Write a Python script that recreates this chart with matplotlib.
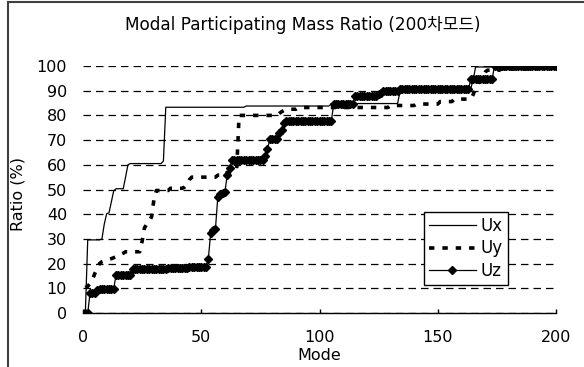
import numpy as np
import matplotlib
matplotlib.use('Agg')
import matplotlib.pyplot as plt
from matplotlib.lines import Line2D

plt.rcParams['font.family'] = ['DejaVu Sans', 'Noto Sans CJK KR']

# mode numbers 1..200
modes = np.arange(1, 201)

ux_levels = [0.3, 29.6, 29.6, 30, 36, 40.2, 40.6, 45, 49.5, 50.3, 55, 60, 60.5, 61.5,
             83.3, 83.8, 84.8, 89.4, 90.3, 91, 94.5, 99.6, 100]
ux_counts = [1, 1, 5, 1, 1, 1, 1, 1, 1, 4, 1, 1, 14, 1,
             34, 36, 29, 17, 13, 1, 1, 8, 27]

uy_levels = [10.3, 10.8, 12, 13.5, 16, 18, 20, 20.8, 21.2, 21.5, 21.8, 22, 22.4, 22.8, 23.3, 23.8, 24.2,
             24.8, 29, 34.5, 36, 37, 39, 46, 49.6, 50.5, 51, 52, 54, 55, 55.8, 57, 58.5,
             80, 80.8, 81.5, 82, 82.5, 83.2, 84, 84.6, 85.6, 86.6,
             88.5, 91, 93, 94.5, 96, 97.5, 98.3, 98.8, 99.6]
uy_counts = [1, 1, 1, 1, 1, 1, 1, 1, 1, 1, 1, 1, 1, 1, 1, 1, 1,
             7, 1, 1, 1, 1, 1, 1, 6, 6, 1, 1, 1, 11, 4, 4, 1,
             17, 1, 1, 1, 5, 39, 11, 10, 6, 8,
             1, 1, 1, 1, 1, 1, 6, 12, 12]

uz_levels = [0, 8.2, 9.5, 9.9, 15.5, 17.7, 18.2, 18.8, 22, 32.5, 33.5, 34, 47, 48, 48.5, 49, 56, 58.6,
             62, 63.6, 66.3, 70.4, 73, 74, 77, 77.7, 84.6, 87.8, 88.5, 89, 89.8, 90.7, 94.8, 100]
uz_counts = [2, 3, 1, 7, 7, 15, 9, 8, 1, 1, 1, 1, 1, 1, 1, 1, 1, 1,
             14, 1, 1, 4, 1, 1, 1, 20, 9, 10, 1, 1, 7, 30, 10, 27]

ux = np.repeat(ux_levels, ux_counts)
uy = np.repeat(uy_levels, uy_counts)
uz = np.repeat(uz_levels, uz_counts)

fig = plt.figure(figsize=(5.84, 3.67), dpi=100)
ax = fig.add_axes([83 / 584, 1 - 313 / 367, 473 / 584, 247 / 367])

ax.plot(modes, ux, color='black', lw=0.9, label='Ux')
ax.plot(modes, uy, color='black', lw=2.6, linestyle=(0, (1.5, 2.2)), dash_capstyle='butt', label='Uy')
ax.plot(modes, uz, color='black', lw=0.9, marker='D', markersize=3.8, label='Uz')

ax.set_xlim(0, 200)
ax.set_ylim(0, 100)
ax.set_xticks([0, 50, 100, 150, 200])
ax.set_yticks(range(0, 101, 10))
ax.tick_params(axis='x', direction='in', length=3, width=1, pad=12, labelsize=11.5)
ax.tick_params(axis='y', length=0, pad=11.5, labelsize=11.5)
ax.yaxis.grid(True, color='black', lw=0.9, linestyle=(0, (6, 4)))
ax.set_axisbelow(True)
for s in ['top', 'right', 'left']:
    ax.spines[s].set_visible(False)
ax.spines['bottom'].set_linewidth(1)

ax.set_xlabel('Mode', fontsize=11.5)
ax.xaxis.set_label_coords(0.5, -0.143)
ax.set_ylabel('Ratio (%)', fontsize=11.5)
ax.yaxis.set_label_coords(-0.122, 0.48)

leg = ax.legend(loc='lower left', bbox_to_anchor=(0.721, 0.113), borderaxespad=0, fontsize=12,
                handlelength=2.8, handletextpad=0.3, labelspacing=0.28, borderpad=0.3,
                fancybox=False, framealpha=1, edgecolor='black', numpoints=1)
leg.get_frame().set_linewidth(1)

fig.text(303 / 584, 1 - 25 / 367, 'Modal Participating Mass Ratio (200차모드)',
         ha='center', va='center', fontsize=12.2)

# outer chart frame (only left and top edges fall inside the picture)
fig.add_artist(Line2D([8 / 584, 8 / 584], [0, 1 - 1.5 / 367], color='#404040', lw=1.5))
fig.add_artist(Line2D([8 / 584, 1], [1 - 1.5 / 367, 1 - 1.5 / 367], color='#404040', lw=1.5))

fig.savefig('out.png', dpi=100)
